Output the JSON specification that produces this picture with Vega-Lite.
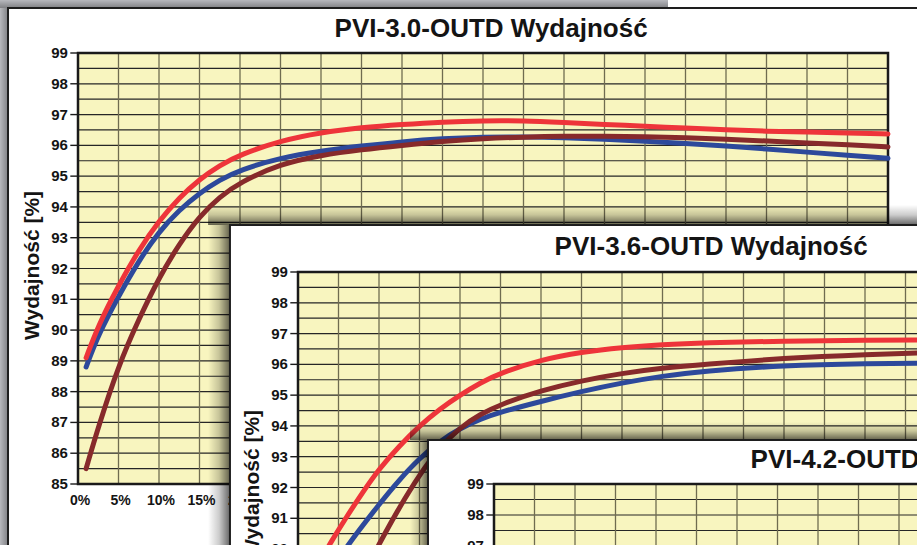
{
"$schema":"https://vega.github.io/schema/vega-lite/v6.json",
"width":917,"height":545,"padding":0,"autosize":{"type":"none"},
"background":"#b7b8bd",
"config":{"view":{"stroke":null},"text":{"font":"Liberation Sans, Arial, sans-serif","fontWeight":"bold","color":"#141414"}},
"datasets":{
"yhalf":[{"v":85},{"v":85.5},{"v":86},{"v":86.5},{"v":87},{"v":87.5},{"v":88},{"v":88.5},{"v":89},{"v":89.5},{"v":90},{"v":90.5},{"v":91},{"v":91.5},{"v":92},{"v":92.5},{"v":93},{"v":93.5},{"v":94},{"v":94.5},{"v":95},{"v":95.5},{"v":96},{"v":96.5},{"v":97},{"v":97.5},{"v":98},{"v":98.5},{"v":99}],
"yticks":[{"v":85},{"v":86},{"v":87},{"v":88},{"v":89},{"v":90},{"v":91},{"v":92},{"v":93},{"v":94},{"v":95},{"v":96},{"v":97},{"v":98},{"v":99}],
"xgrid":[{"v":0,"t":"0%"},{"v":5,"t":"5%"},{"v":10,"t":"10%"},{"v":15,"t":"15%"},{"v":20,"t":"20%"},{"v":25,"t":"25%"},{"v":30,"t":"30%"},{"v":35,"t":"35%"},{"v":40,"t":"40%"},{"v":45,"t":"45%"},{"v":50,"t":"50%"},{"v":55,"t":"55%"},{"v":60,"t":"60%"},{"v":65,"t":"65%"},{"v":70,"t":"70%"},{"v":75,"t":"75%"},{"v":80,"t":"80%"},{"v":85,"t":"85%"},{"v":90,"t":"90%"},{"v":95,"t":"95%"},{"v":100,"t":"100%"}],
"p1":[
{"s":"blue","x":1,"y":88.8},{"s":"blue","x":2.5,"y":89.85},{"s":"blue","x":5,"y":91.1},{"s":"blue","x":7.5,"y":92.25},{"s":"blue","x":10,"y":93.2},{"s":"blue","x":12.5,"y":93.9},{"s":"blue","x":15,"y":94.45},{"s":"blue","x":17.5,"y":94.88},{"s":"blue","x":20,"y":95.2},{"s":"blue","x":25,"y":95.6},{"s":"blue","x":30,"y":95.82},{"s":"blue","x":35,"y":95.98},{"s":"blue","x":40,"y":96.12},{"s":"blue","x":45,"y":96.22},{"s":"blue","x":50,"y":96.27},{"s":"blue","x":55,"y":96.28},{"s":"blue","x":60,"y":96.25},{"s":"blue","x":65,"y":96.2},{"s":"blue","x":70,"y":96.13},{"s":"blue","x":75,"y":96.06},{"s":"blue","x":80,"y":95.98},{"s":"blue","x":85,"y":95.88},{"s":"blue","x":90,"y":95.78},{"s":"blue","x":95,"y":95.68},{"s":"blue","x":100,"y":95.58},
{"s":"brown","x":1,"y":85.5},{"s":"brown","x":2.5,"y":86.85},{"s":"brown","x":5,"y":88.85},{"s":"brown","x":7.5,"y":90.35},{"s":"brown","x":10,"y":91.7},{"s":"brown","x":12.5,"y":92.8},{"s":"brown","x":15,"y":93.7},{"s":"brown","x":17.5,"y":94.33},{"s":"brown","x":20,"y":94.8},{"s":"brown","x":25,"y":95.4},{"s":"brown","x":30,"y":95.68},{"s":"brown","x":35,"y":95.86},{"s":"brown","x":40,"y":96.0},{"s":"brown","x":45,"y":96.13},{"s":"brown","x":50,"y":96.22},{"s":"brown","x":55,"y":96.27},{"s":"brown","x":60,"y":96.3},{"s":"brown","x":65,"y":96.3},{"s":"brown","x":70,"y":96.28},{"s":"brown","x":75,"y":96.25},{"s":"brown","x":80,"y":96.2},{"s":"brown","x":85,"y":96.14},{"s":"brown","x":90,"y":96.08},{"s":"brown","x":95,"y":96.02},{"s":"brown","x":100,"y":95.95},
{"s":"red","x":1,"y":89.1},{"s":"red","x":2.5,"y":90.15},{"s":"red","x":5,"y":91.45},{"s":"red","x":7.5,"y":92.6},{"s":"red","x":10,"y":93.55},{"s":"red","x":12.5,"y":94.3},{"s":"red","x":15,"y":94.9},{"s":"red","x":17.5,"y":95.35},{"s":"red","x":20,"y":95.7},{"s":"red","x":25,"y":96.15},{"s":"red","x":30,"y":96.42},{"s":"red","x":35,"y":96.58},{"s":"red","x":40,"y":96.68},{"s":"red","x":45,"y":96.76},{"s":"red","x":50,"y":96.8},{"s":"red","x":55,"y":96.8},{"s":"red","x":60,"y":96.74},{"s":"red","x":65,"y":96.68},{"s":"red","x":70,"y":96.62},{"s":"red","x":75,"y":96.56},{"s":"red","x":80,"y":96.5},{"s":"red","x":85,"y":96.46},{"s":"red","x":90,"y":96.43},{"s":"red","x":95,"y":96.4},{"s":"red","x":100,"y":96.37}
],
"p2":[
{"s":"blue","x":2,"y":88.5},{"s":"blue","x":3.5,"y":89.1},{"s":"blue","x":5,"y":89.7},{"s":"blue","x":7.5,"y":90.6},{"s":"blue","x":10,"y":91.45},{"s":"blue","x":12.5,"y":92.25},{"s":"blue","x":15,"y":92.95},{"s":"blue","x":17.5,"y":93.5},{"s":"blue","x":20,"y":93.92},{"s":"blue","x":22.5,"y":94.22},{"s":"blue","x":25,"y":94.45},{"s":"blue","x":30,"y":94.8},{"s":"blue","x":35,"y":95.12},{"s":"blue","x":40,"y":95.4},{"s":"blue","x":45,"y":95.62},{"s":"blue","x":50,"y":95.78},{"s":"blue","x":60,"y":95.97},{"s":"blue","x":70,"y":96.03},{"s":"blue","x":80,"y":96.05},{"s":"blue","x":90,"y":96.06},{"s":"blue","x":100,"y":96.06},
{"s":"brown","x":6,"y":88.0},{"s":"brown","x":7.5,"y":88.85},{"s":"brown","x":9,"y":89.65},{"s":"brown","x":10.5,"y":90.4},{"s":"brown","x":12.5,"y":91.35},{"s":"brown","x":15,"y":92.42},{"s":"brown","x":17.5,"y":93.3},{"s":"brown","x":20,"y":93.95},{"s":"brown","x":22.5,"y":94.38},{"s":"brown","x":25,"y":94.7},{"s":"brown","x":30,"y":95.15},{"s":"brown","x":35,"y":95.47},{"s":"brown","x":40,"y":95.71},{"s":"brown","x":45,"y":95.88},{"s":"brown","x":50,"y":96.0},{"s":"brown","x":60,"y":96.2},{"s":"brown","x":70,"y":96.32},{"s":"brown","x":80,"y":96.4},{"s":"brown","x":90,"y":96.45},{"s":"brown","x":100,"y":96.48},
{"s":"red","x":1,"y":88.2},{"s":"red","x":2.5,"y":89.5},{"s":"red","x":4,"y":90.2},{"s":"red","x":6,"y":91.05},{"s":"red","x":8,"y":91.85},{"s":"red","x":10,"y":92.6},{"s":"red","x":12.5,"y":93.35},{"s":"red","x":15,"y":94.0},{"s":"red","x":17.5,"y":94.55},{"s":"red","x":20,"y":95.0},{"s":"red","x":22.5,"y":95.4},{"s":"red","x":25,"y":95.72},{"s":"red","x":30,"y":96.15},{"s":"red","x":35,"y":96.4},{"s":"red","x":40,"y":96.55},{"s":"red","x":45,"y":96.64},{"s":"red","x":50,"y":96.7},{"s":"red","x":60,"y":96.76},{"s":"red","x":70,"y":96.78},{"s":"red","x":80,"y":96.8},{"s":"red","x":90,"y":96.8},{"s":"red","x":100,"y":96.8}
]
},
"resolve":{"scale":{"x":"independent","y":"independent"}},
"layer":[
{"layer":[
{"data":{"values":[{}]},"mark":{"type":"rect","fill":{"gradient":"linear","x1":0,"y1":0,"x2":1,"y2":0,"stops":[{"offset":0,"color":"rgba(0,0,0,0)"},{"offset":1,"color":"rgba(0,0,0,0.3)"}]}},
 "encoding":{"x":{"datum":-9.63,"type":"quantitative","scale":{"domain":[0,100],"range":[78,888],"nice":false,"zero":false},"axis":null},"x2":{"datum":-8.64},"y":{"datum":100.46,"type":"quantitative","scale":{"domain":[85,99],"range":[484,53],"nice":false,"zero":false},"axis":null},"y2":{"datum":60}}},
{"data":{"values":[{}]},"mark":{"type":"rect","fill":{"gradient":"linear","x1":0,"y1":0,"x2":0,"y2":1,"stops":[{"offset":0,"color":"rgba(0,0,0,0)"},{"offset":1,"color":"rgba(0,0,0,0.3)"}]}},
 "encoding":{"x":{"datum":-9.63,"type":"quantitative","scale":{"domain":[0,100],"range":[78,888],"nice":false,"zero":false},"axis":null},"x2":{"datum":125},"y":{"datum":100.72,"type":"quantitative","scale":{"domain":[85,99],"range":[484,53],"nice":false,"zero":false},"axis":null},"y2":{"datum":100.46}}},
{"data":{"values":[{}]},"mark":{"type":"rect","fill":"#ffffff"},
 "encoding":{"x":{"datum":72.84,"type":"quantitative","scale":{"domain":[0,100],"range":[78,888],"nice":false,"zero":false},"axis":null},"x2":{"datum":125},"y":{"datum":101.2,"type":"quantitative","scale":{"domain":[85,99],"range":[484,53],"nice":false,"zero":false},"axis":null},"y2":{"datum":100.46}}},
{"data":{"values":[{}]},"mark":{"type":"rect","fill":"#ffffff","stroke":"#1e1e1e","strokeWidth":2},
 "encoding":{"x":{"datum":-8.64,"type":"quantitative","scale":{"domain":[0,100],"range":[78,888],"nice":false,"zero":false},"axis":null},"x2":{"datum":125},"y":{"datum":100.46,"type":"quantitative","scale":{"domain":[85,99],"range":[484,53],"nice":false,"zero":false},"axis":null},"y2":{"datum":60}}},
{"data":{"values":[{}]},"mark":{"type":"rect","fill":"#f8f5bf"},
 "encoding":{"x":{"datum":0,"type":"quantitative","scale":{"domain":[0,100],"range":[78,888],"nice":false,"zero":false},"axis":null},"x2":{"datum":100},"y":{"datum":85,"type":"quantitative","scale":{"domain":[85,99],"range":[484,53],"nice":false,"zero":false},"axis":null},"y2":{"datum":99}}},
{"data":{"name":"yhalf"},"mark":{"type":"rule","stroke":"#262626","strokeWidth":1.2},
 "encoding":{"x":{"datum":0,"type":"quantitative","scale":{"domain":[0,100],"range":[78,888],"nice":false,"zero":false},"axis":null},"x2":{"datum":100},"y":{"field":"v","type":"quantitative","scale":{"domain":[85,99],"range":[484,53],"nice":false,"zero":false},"axis":null}}},
{"data":{"name":"xgrid"},"mark":{"type":"rule","stroke":"#6f6c50","strokeWidth":1.3},
 "encoding":{"x":{"field":"v","type":"quantitative","scale":{"domain":[0,100],"range":[78,888],"nice":false,"zero":false},"axis":null},"y":{"datum":85,"type":"quantitative","scale":{"domain":[85,99],"range":[484,53],"nice":false,"zero":false},"axis":null},"y2":{"datum":99}}},
{"data":{"name":"yticks"},"mark":{"type":"rule","stroke":"#1a1a1a","strokeWidth":1.4},
 "encoding":{"x":{"datum":-0.95,"type":"quantitative","scale":{"domain":[0,100],"range":[78,888],"nice":false,"zero":false},"axis":null},"x2":{"datum":0},"y":{"field":"v","type":"quantitative","scale":{"domain":[85,99],"range":[484,53],"nice":false,"zero":false},"axis":null}}},
{"data":{"values":[{}]},"mark":{"type":"rect","fillOpacity":0,"stroke":"#1a1a1a","strokeWidth":2.5},
 "encoding":{"x":{"datum":0,"type":"quantitative","scale":{"domain":[0,100],"range":[78,888],"nice":false,"zero":false},"axis":null},"x2":{"datum":100},"y":{"datum":85,"type":"quantitative","scale":{"domain":[85,99],"range":[484,53],"nice":false,"zero":false},"axis":null},"y2":{"datum":99}}},
{"data":{"name":"p1"},"mark":{"type":"line","strokeWidth":5,"interpolate":"basis","strokeCap":"round"},
 "encoding":{"x":{"field":"x","type":"quantitative","scale":{"domain":[0,100],"range":[78,888],"nice":false,"zero":false},"axis":null},"y":{"field":"y","type":"quantitative","scale":{"domain":[85,99],"range":[484,53],"nice":false,"zero":false},"axis":null},"color":{"field":"s","type":"nominal","scale":{"domain":["blue","brown","red"],"range":["#2d499b","#872a2b","#ee343a"]},"legend":null},"order":{"field":"x","type":"quantitative"}}},
{"data":{"name":"yticks"},"mark":{"type":"text","align":"right","baseline":"middle","fontSize":15},
 "encoding":{"x":{"datum":-1.25,"type":"quantitative","scale":{"domain":[0,100],"range":[78,888],"nice":false,"zero":false},"axis":null},"y":{"field":"v","type":"quantitative","scale":{"domain":[85,99],"range":[484,53],"nice":false,"zero":false},"axis":null},"text":{"field":"v","type":"quantitative","format":"d"}}},
{"data":{"name":"xgrid"},"mark":{"type":"text","align":"center","baseline":"middle","fontSize":14,"dx":2},
 "encoding":{"x":{"field":"v","type":"quantitative","scale":{"domain":[0,100],"range":[78,888],"nice":false,"zero":false},"axis":null},"y":{"datum":84.45,"type":"quantitative","scale":{"domain":[85,99],"range":[484,53],"nice":false,"zero":false},"axis":null},"text":{"field":"t","type":"nominal"}}},
{"data":{"values":[{}]},"mark":{"type":"text","align":"center","baseline":"middle","fontSize":21,"angle":270,"text":"Wydajność [%]"},
 "encoding":{"x":{"datum":-5.6,"type":"quantitative","scale":{"domain":[0,100],"range":[78,888],"nice":false,"zero":false},"axis":null},"y":{"datum":92.1,"type":"quantitative","scale":{"domain":[85,99],"range":[484,53],"nice":false,"zero":false},"axis":null}}},
{"data":{"values":[{}]},"mark":{"type":"text","align":"center","baseline":"middle","fontSize":26,"text":"PVI-3.0-OUTD  Wydajność"},
 "encoding":{"x":{"datum":51,"type":"quantitative","scale":{"domain":[0,100],"range":[78,888],"nice":false,"zero":false},"axis":null},"y":{"datum":99.78,"type":"quantitative","scale":{"domain":[85,99],"range":[484,53],"nice":false,"zero":false},"axis":null}}}
]},
{"layer":[
{"data":{"values":[{}]},"mark":{"type":"rect","fill":{"gradient":"linear","x1":0,"y1":0,"x2":1,"y2":0,"stops":[{"offset":0,"color":"rgba(0,0,0,0)"},{"offset":0.5,"color":"rgba(0,0,0,0.2)"},{"offset":1,"color":"rgba(0,0,0,0.6)"}]}},
 "encoding":{"x":{"datum":-11.1,"type":"quantitative","scale":{"domain":[0,100],"range":[298,1108],"nice":false,"zero":false},"axis":null},"x2":{"datum":-8.4},"y":{"datum":100.53,"type":"quantitative","scale":{"domain":[85,99],"range":[703,272],"nice":false,"zero":false},"axis":null},"y2":{"datum":60}}},
{"data":{"values":[{}]},"mark":{"type":"rect","fill":{"gradient":"linear","x1":0,"y1":0,"x2":0,"y2":1,"stops":[{"offset":0,"color":"rgba(0,0,0,0)"},{"offset":0.5,"color":"rgba(0,0,0,0.2)"},{"offset":1,"color":"rgba(0,0,0,0.6)"}]}},
 "encoding":{"x":{"datum":-11.1,"type":"quantitative","scale":{"domain":[0,100],"range":[298,1108],"nice":false,"zero":false},"axis":null},"x2":{"datum":125},"y":{"datum":101.18,"type":"quantitative","scale":{"domain":[85,99],"range":[703,272],"nice":false,"zero":false},"axis":null},"y2":{"datum":100.53}}},
{"data":{"values":[{}]},"mark":{"type":"rect","fill":"#ffffff","stroke":"#1e1e1e","strokeWidth":2},
 "encoding":{"x":{"datum":-8.4,"type":"quantitative","scale":{"domain":[0,100],"range":[298,1108],"nice":false,"zero":false},"axis":null},"x2":{"datum":125},"y":{"datum":100.53,"type":"quantitative","scale":{"domain":[85,99],"range":[703,272],"nice":false,"zero":false},"axis":null},"y2":{"datum":60}}},
{"data":{"values":[{}]},"mark":{"type":"rect","fill":"#f8f5bf"},
 "encoding":{"x":{"datum":0,"type":"quantitative","scale":{"domain":[0,100],"range":[298,1108],"nice":false,"zero":false},"axis":null},"x2":{"datum":100},"y":{"datum":85,"type":"quantitative","scale":{"domain":[85,99],"range":[703,272],"nice":false,"zero":false},"axis":null},"y2":{"datum":99}}},
{"data":{"name":"yhalf"},"mark":{"type":"rule","stroke":"#262626","strokeWidth":1.2},
 "encoding":{"x":{"datum":0,"type":"quantitative","scale":{"domain":[0,100],"range":[298,1108],"nice":false,"zero":false},"axis":null},"x2":{"datum":100},"y":{"field":"v","type":"quantitative","scale":{"domain":[85,99],"range":[703,272],"nice":false,"zero":false},"axis":null}}},
{"data":{"name":"xgrid"},"mark":{"type":"rule","stroke":"#6f6c50","strokeWidth":1.3},
 "encoding":{"x":{"field":"v","type":"quantitative","scale":{"domain":[0,100],"range":[298,1108],"nice":false,"zero":false},"axis":null},"y":{"datum":85,"type":"quantitative","scale":{"domain":[85,99],"range":[703,272],"nice":false,"zero":false},"axis":null},"y2":{"datum":99}}},
{"data":{"name":"yticks"},"mark":{"type":"rule","stroke":"#1a1a1a","strokeWidth":1.4},
 "encoding":{"x":{"datum":-0.95,"type":"quantitative","scale":{"domain":[0,100],"range":[298,1108],"nice":false,"zero":false},"axis":null},"x2":{"datum":0},"y":{"field":"v","type":"quantitative","scale":{"domain":[85,99],"range":[703,272],"nice":false,"zero":false},"axis":null}}},
{"data":{"values":[{}]},"mark":{"type":"rect","fillOpacity":0,"stroke":"#1a1a1a","strokeWidth":2.5},
 "encoding":{"x":{"datum":0,"type":"quantitative","scale":{"domain":[0,100],"range":[298,1108],"nice":false,"zero":false},"axis":null},"x2":{"datum":100},"y":{"datum":85,"type":"quantitative","scale":{"domain":[85,99],"range":[703,272],"nice":false,"zero":false},"axis":null},"y2":{"datum":99}}},
{"data":{"name":"p2"},"mark":{"type":"line","strokeWidth":5,"interpolate":"basis","strokeCap":"round"},
 "encoding":{"x":{"field":"x","type":"quantitative","scale":{"domain":[0,100],"range":[298,1108],"nice":false,"zero":false},"axis":null},"y":{"field":"y","type":"quantitative","scale":{"domain":[85,99],"range":[703,272],"nice":false,"zero":false},"axis":null},"color":{"field":"s","type":"nominal","scale":{"domain":["blue","brown","red"],"range":["#2d499b","#872a2b","#ee343a"]},"legend":null},"order":{"field":"x","type":"quantitative"}}},
{"data":{"name":"yticks"},"mark":{"type":"text","align":"right","baseline":"middle","fontSize":15},
 "encoding":{"x":{"datum":-1.25,"type":"quantitative","scale":{"domain":[0,100],"range":[298,1108],"nice":false,"zero":false},"axis":null},"y":{"field":"v","type":"quantitative","scale":{"domain":[85,99],"range":[703,272],"nice":false,"zero":false},"axis":null},"text":{"field":"v","type":"quantitative","format":"d"}}},
{"data":{"name":"xgrid"},"mark":{"type":"text","align":"center","baseline":"middle","fontSize":14,"dx":2},
 "encoding":{"x":{"field":"v","type":"quantitative","scale":{"domain":[0,100],"range":[298,1108],"nice":false,"zero":false},"axis":null},"y":{"datum":84.45,"type":"quantitative","scale":{"domain":[85,99],"range":[703,272],"nice":false,"zero":false},"axis":null},"text":{"field":"t","type":"nominal"}}},
{"data":{"values":[{}]},"mark":{"type":"text","align":"center","baseline":"middle","fontSize":21,"angle":270,"text":"Wydajność [%]"},
 "encoding":{"x":{"datum":-5.6,"type":"quantitative","scale":{"domain":[0,100],"range":[298,1108],"nice":false,"zero":false},"axis":null},"y":{"datum":92.1,"type":"quantitative","scale":{"domain":[85,99],"range":[703,272],"nice":false,"zero":false},"axis":null}}},
{"data":{"values":[{}]},"mark":{"type":"text","align":"center","baseline":"middle","fontSize":26,"text":"PVI-3.6-OUTD  Wydajność"},
 "encoding":{"x":{"datum":51,"type":"quantitative","scale":{"domain":[0,100],"range":[298,1108],"nice":false,"zero":false},"axis":null},"y":{"datum":99.8,"type":"quantitative","scale":{"domain":[85,99],"range":[703,272],"nice":false,"zero":false},"axis":null}}}
]},
{"layer":[
{"data":{"values":[{}]},"mark":{"type":"rect","fill":{"gradient":"linear","x1":0,"y1":0,"x2":1,"y2":0,"stops":[{"offset":0,"color":"rgba(0,0,0,0)"},{"offset":0.5,"color":"rgba(0,0,0,0.2)"},{"offset":1,"color":"rgba(0,0,0,0.6)"}]}},
 "encoding":{"x":{"datum":-10.37,"type":"quantitative","scale":{"domain":[0,100],"range":[494,1304],"nice":false,"zero":false},"axis":null},"x2":{"datum":-8.15},"y":{"datum":100.42,"type":"quantitative","scale":{"domain":[85,99],"range":[918,484],"nice":false,"zero":false},"axis":null},"y2":{"datum":60}}},
{"data":{"values":[{}]},"mark":{"type":"rect","fill":{"gradient":"linear","x1":0,"y1":0,"x2":0,"y2":1,"stops":[{"offset":0,"color":"rgba(0,0,0,0)"},{"offset":0.5,"color":"rgba(0,0,0,0.2)"},{"offset":1,"color":"rgba(0,0,0,0.6)"}]}},
 "encoding":{"x":{"datum":-10.37,"type":"quantitative","scale":{"domain":[0,100],"range":[494,1304],"nice":false,"zero":false},"axis":null},"x2":{"datum":125},"y":{"datum":101.0,"type":"quantitative","scale":{"domain":[85,99],"range":[918,484],"nice":false,"zero":false},"axis":null},"y2":{"datum":100.42}}},
{"data":{"values":[{}]},"mark":{"type":"rect","fill":"#ffffff","stroke":"#1e1e1e","strokeWidth":2},
 "encoding":{"x":{"datum":-8.15,"type":"quantitative","scale":{"domain":[0,100],"range":[494,1304],"nice":false,"zero":false},"axis":null},"x2":{"datum":125},"y":{"datum":100.42,"type":"quantitative","scale":{"domain":[85,99],"range":[918,484],"nice":false,"zero":false},"axis":null},"y2":{"datum":60}}},
{"data":{"values":[{}]},"mark":{"type":"rect","fill":"#f8f5bf"},
 "encoding":{"x":{"datum":0,"type":"quantitative","scale":{"domain":[0,100],"range":[494,1304],"nice":false,"zero":false},"axis":null},"x2":{"datum":100},"y":{"datum":85,"type":"quantitative","scale":{"domain":[85,99],"range":[918,484],"nice":false,"zero":false},"axis":null},"y2":{"datum":99}}},
{"data":{"name":"yhalf"},"mark":{"type":"rule","stroke":"#262626","strokeWidth":1.2},
 "encoding":{"x":{"datum":0,"type":"quantitative","scale":{"domain":[0,100],"range":[494,1304],"nice":false,"zero":false},"axis":null},"x2":{"datum":100},"y":{"field":"v","type":"quantitative","scale":{"domain":[85,99],"range":[918,484],"nice":false,"zero":false},"axis":null}}},
{"data":{"name":"xgrid"},"mark":{"type":"rule","stroke":"#6f6c50","strokeWidth":1.3},
 "encoding":{"x":{"field":"v","type":"quantitative","scale":{"domain":[0,100],"range":[494,1304],"nice":false,"zero":false},"axis":null},"y":{"datum":85,"type":"quantitative","scale":{"domain":[85,99],"range":[918,484],"nice":false,"zero":false},"axis":null},"y2":{"datum":99}}},
{"data":{"name":"yticks"},"mark":{"type":"rule","stroke":"#1a1a1a","strokeWidth":1.4},
 "encoding":{"x":{"datum":-0.95,"type":"quantitative","scale":{"domain":[0,100],"range":[494,1304],"nice":false,"zero":false},"axis":null},"x2":{"datum":0},"y":{"field":"v","type":"quantitative","scale":{"domain":[85,99],"range":[918,484],"nice":false,"zero":false},"axis":null}}},
{"data":{"values":[{}]},"mark":{"type":"rect","fillOpacity":0,"stroke":"#1a1a1a","strokeWidth":2.5},
 "encoding":{"x":{"datum":0,"type":"quantitative","scale":{"domain":[0,100],"range":[494,1304],"nice":false,"zero":false},"axis":null},"x2":{"datum":100},"y":{"datum":85,"type":"quantitative","scale":{"domain":[85,99],"range":[918,484],"nice":false,"zero":false},"axis":null},"y2":{"datum":99}}},
{"data":{"name":"yticks"},"mark":{"type":"text","align":"right","baseline":"middle","fontSize":15},
 "encoding":{"x":{"datum":-1.25,"type":"quantitative","scale":{"domain":[0,100],"range":[494,1304],"nice":false,"zero":false},"axis":null},"y":{"field":"v","type":"quantitative","scale":{"domain":[85,99],"range":[918,484],"nice":false,"zero":false},"axis":null},"text":{"field":"v","type":"quantitative","format":"d"}}},
{"data":{"values":[{}]},"mark":{"type":"text","align":"center","baseline":"middle","fontSize":26,"text":"PVI-4.2-OUTD  Wydajność"},
 "encoding":{"x":{"datum":51,"type":"quantitative","scale":{"domain":[0,100],"range":[494,1304],"nice":false,"zero":false},"axis":null},"y":{"datum":99.76,"type":"quantitative","scale":{"domain":[85,99],"range":[918,484],"nice":false,"zero":false},"axis":null}}}
]}
]
}
